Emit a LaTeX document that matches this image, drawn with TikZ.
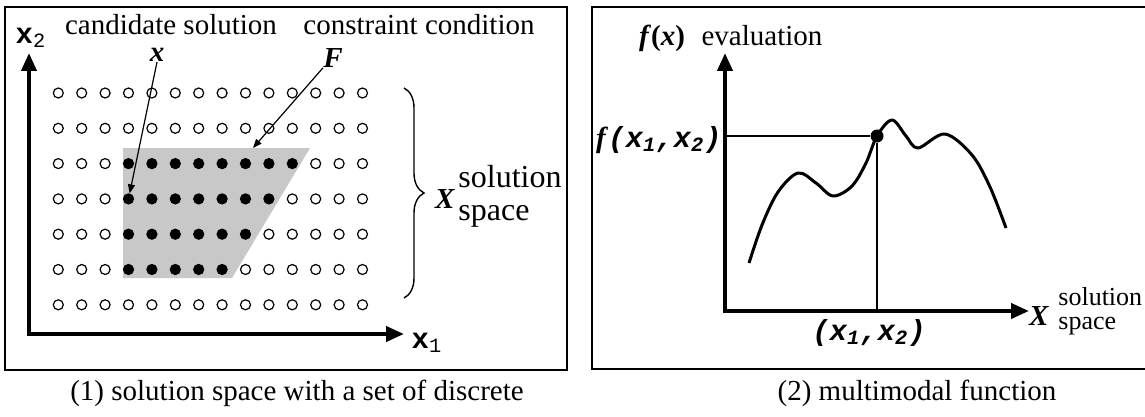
\documentclass[tikz,border=0pt]{standalone}
\usepackage{fontspec}
\setmainfont{Liberation Serif}
\setmonofont{Liberation Mono}
\usepackage{tikz}
\usetikzlibrary{arrows.meta,positioning,calc,decorations.pathreplacing}

\definecolor{regiongray}{RGB}{200,200,200}
\tikzset{
  frame/.style={line width=0.8pt},
  axis/.style={line width=2pt,{Triangle[length=9pt,width=7.5pt]}-{Triangle[length=9pt,width=7.5pt]}},
  pointer/.style={line width=0.6pt,-{Triangle[length=4.5pt,width=3.5pt]}},
  opendot/.style={circle,draw,line width=0.6pt,fill=white,minimum size=5pt,inner sep=0pt},
  fulldot/.style={circle,draw,fill=black,line width=0.6pt,minimum size=5pt,inner sep=0pt},
  bigdot/.style={circle,fill=black,minimum size=6.5pt,inner sep=0pt},
  txt/.style={font=\fontsize{14.5}{16.5}\selectfont,inner sep=0pt}
}
\newcommand{\bx}{\textbf{\textit{x}}}

\begin{document}
\begin{tikzpicture}[x=0.5pt,y=-0.5pt]
  \useasboundingbox (0,0) rectangle (1145,417);

  % (1) solution space
  \draw[frame] (5,7) rectangle (567,370);
  \fill[regiongray] (123,148) -- (310,148) -- (232,278) -- (123,278) -- cycle;
  \coordinate (Ftip) at (253,148);
  \foreach \j in {0,...,6}{
    \foreach \i in {0,...,13}{
      \pgfmathtruncatemacro{\isin}{(\j>=2)*(\j<=5)*(\i>=3)*(\i<=12-\j)}
      \ifnum\isin=1 \def\dotstyle{fulldot}\else\def\dotstyle{opendot}\fi
      \node[\dotstyle] (d-\i-\j) at ({58.3+23.4*\i},{93+35.3*\j}) {};
    }
  }
  \coordinate (o1) at (29,334);
  \coordinate (ytop1) at (29,53);
  \coordinate (xend1) at (404,334);
  \draw[axis] (ytop1) -- (o1) -- (xend1);
  \node[txt] (xtwo) at (31,38) {{\ttfamily\bfseries x\textsubscript{\mdseries 2}}};
  \node[txt] (xone) at (427,343) {{\ttfamily\bfseries x\textsubscript{\mdseries 1}}};
  \node[txt,anchor=base] (cand) at (171,35) {candidate solution};
  \node[txt,anchor=base] (cons) at (419,35) {constraint condition};
  \node[txt] (xlab) at (157,55) {\bx};
  \node[txt] (Flab) at (333,58) {\textbf{\textit{F}}};
  \draw[pointer] (xlab.south) -- (d-3-3);
  \draw[pointer] (Flab.south west) -- (Ftip);
  \coordinate (btop) at (404,88);
  \coordinate (bbot) at (404,298);
  \draw[line width=0.7pt,decorate,decoration={brace,amplitude=10pt}] (btop) -- (bbot);
  \node[txt] (Xone) at (445,199) {\textbf{\textit{X}}};
  \node[txt,font=\fontsize{16}{16.5}\selectfont,anchor=west,align=left] (ssone) at (458,196) {solution\\space};
  \node[txt] (cap1) at (297,393) {(1) solution space with a set of discrete};

  % (2) multimodal function
  \draw[frame] (1146,7) -- (592,7) -- (592,369) -- (1146,369);
  \coordinate (o2) at (725,311);
  \coordinate (ytop2) at (725,53);
  \coordinate (xend2) at (1029,311);
  \draw[line width=1.5pt,line join=round] plot[smooth,tension=0.55] coordinates {
    (749,263) (762,225) (778,192) (798,173) (816,183) (833,196) (852,186)
    (866,163) (877,136) (892,120) (906,136) (918,148) (945,134) (972,155)
    (990,187) (1006,228)};
  \node[bigdot] (pt) at (877,136) {};
  \draw[line width=0.6pt] (pt) -- (pt -| o2);
  \draw[line width=0.6pt] (pt) -- (pt |- o2);
  \draw[axis] (ytop2) -- (o2) -- (xend2);
  \node[txt,anchor=base] (fx) at (662,46) {\textbf{\textit{f}(\textit{x})}};
  \node[txt,anchor=base] (eval) at (762,46) {evaluation};
  \node[txt,anchor=east] (fval) at (722,140)
    {\textbf{\textit{f}}{\ttfamily\bfseries\itshape (x\textsubscript{1},x\textsubscript{2})}};
  \node[txt] (xval) at (869,333)
    {{\ttfamily\bfseries\itshape (x\textsubscript{1},x\textsubscript{2})}};
  \node[txt] (Xtwo) at (1039,316) {\textbf{\textit{X}}};
  \node[txt,font=\fontsize{13}{12}\selectfont,anchor=west,align=left] (sstwo) at (1058,311) {solution\\space};
  \node[txt] (cap2) at (917,393) {(2) multimodal function};
\end{tikzpicture}
\end{document}
